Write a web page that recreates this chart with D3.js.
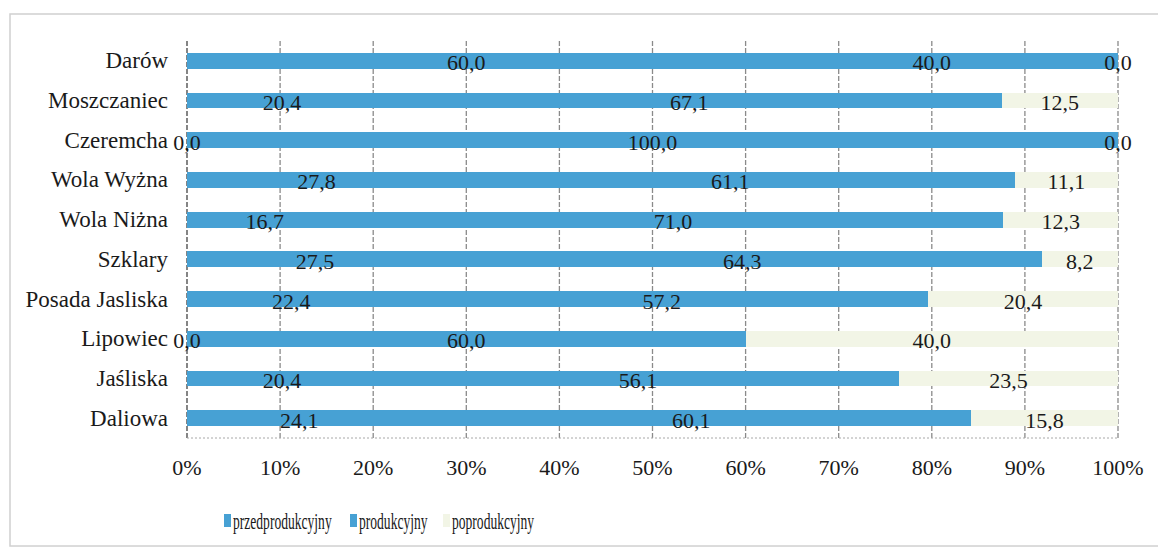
<!DOCTYPE html>
<html lang="pl">
<head>
	<meta charset="utf-8">
	<title>Struktura wieku</title>
	<style>
		body { margin: 0; background: #fff; }
		svg text { font-family: "Liberation Serif", "DejaVu Serif", serif; fill: #1a1a1a; }
	</style>
</head>
<body>
	<div id="chart"></div>

	<script src="https://d3js.org/d3.v7.min.js"></script>
	<script>
		var categories = ["Darów", "Moszczaniec", "Czeremcha", "Wola Wyżna", "Wola Niżna", "Szklary", "Posada Jasliska", "Lipowiec", "Jaśliska", "Daliowa"];
		var przedprodukcyjny = [60.0, 20.4, 0.0, 27.8, 16.7, 27.5, 22.4, 0.0, 20.4, 24.1];
		var produkcyjny = [40.0, 67.1, 100.0, 61.1, 71.0, 64.3, 57.2, 60.0, 56.1, 60.1];
		var poprodukcyjny = [0.0, 12.5, 0.0, 11.1, 12.3, 8.2, 20.4, 40.0, 23.5, 15.8];
		var tickValues = [0, 10, 20, 30, 40, 50, 60, 70, 80, 90, 100];
		var seriesNames = ["przedprodukcyjny", "produkcyjny", "poprodukcyjny"];
		var seriesColors = ["#47a1d4", "#47a1d4", "#f2f5e6"];

		var width = 1158,
		    height = 551;

		var svg = d3.select("#chart")
				.append("svg")
				.attr("width", width)
				.attr("height", height);

		// outer frame of the scanned chart
		svg.append("rect")
			.attr("x", 10).attr("y", 14)
			.attr("width", 1150).attr("height", 532)
			.attr("fill", "none")
			.attr("stroke", "#d0d0d0")
			.attr("stroke-width", 1.5);

		var x = d3.scaleLinear().domain([0, 100]).range([187, 1118]);
		var y = d3.scaleBand().domain(categories).range([41, 438]).paddingInner(0.6).paddingOuter(0.3);

		var rows = categories.map(function(c, i) {
			return { cat: c, przedprodukcyjny: przedprodukcyjny[i], produkcyjny: produkcyjny[i], poprodukcyjny: poprodukcyjny[i] };
		});
		var stack = d3.stack().keys(seriesNames)(rows);

		// gridlines
		svg.append("g")
			.selectAll("line")
			.data(tickValues)
			.enter().append("line")
			.attr("x1", function(d) { return x(d); })
			.attr("x2", function(d) { return x(d); })
			.attr("y1", 41).attr("y2", 438)
			.attr("stroke", function(d) { return d === 0 ? "#444" : "#8a8a8a"; })
			.attr("stroke-width", 1.3)
			.attr("stroke-dasharray", "5,2");

		// bottom axis line
		svg.append("line")
			.attr("x1", x(0)).attr("x2", x(100))
			.attr("y1", 438).attr("y2", 438)
			.attr("stroke", "#a8a8a8")
			.attr("stroke-dasharray", "2,2");

		// bars
		svg.append("g")
			.attr("shape-rendering", "crispEdges")
			.selectAll("g")
			.data(stack)
			.enter().append("g")
			.attr("fill", function(d, i) { return seriesColors[i]; })
			.selectAll("rect")
			.data(function(d) { return d; })
			.enter().append("rect")
			.attr("x", function(d) { return x(d[0]); })
			.attr("y", function(d) { return y(d.data.cat); })
			.attr("width", function(d) { return x(d[1]) - x(d[0]); })
			.attr("height", y.bandwidth());

		// data labels
		stack.forEach(function(s) {
			svg.append("g")
				.selectAll("text")
				.data(s)
				.enter().append("text")
				.attr("x", function(d) { return x((d[0] + d[1]) / 2); })
				.attr("y", function(d) { return y(d.data.cat) + y.bandwidth() / 2 + 2; })
				.attr("text-anchor", "middle")
				.attr("dominant-baseline", "central")
				.attr("font-size", 22)
				.text(function(d) { return (d[1] - d[0]).toFixed(1).replace(".", ","); });
		});

		// category labels
		svg.append("g")
			.selectAll("text")
			.data(categories)
			.enter().append("text")
			.attr("x", 168)
			.attr("y", function(d) { return y(d) + y.bandwidth() / 2; })
			.attr("text-anchor", "end")
			.attr("dominant-baseline", "central")
			.attr("font-size", 23)
			.text(function(d) { return d; });

		// x tick labels
		svg.append("g")
			.selectAll("text")
			.data(tickValues)
			.enter().append("text")
			.attr("x", function(d) { return x(d); })
			.attr("y", 467)
			.attr("text-anchor", "middle")
			.attr("dominant-baseline", "central")
			.attr("font-size", 22)
			.text(function(d) { return d + "%"; });

		// legend (the scan is squeezed sideways here)
		var legendX = [224, 350, 443];
		var legend = svg.append("g")
			.selectAll("g")
			.data(seriesNames)
			.enter().append("g")
			.attr("transform", function(d, i) { return "translate(" + legendX[i] + ",521)"; });

		legend.append("rect")
			.attr("x", 0).attr("y", -7)
			.attr("width", 7).attr("height", 13)
			.attr("fill", function(d, i) { return seriesColors[i]; });

		legend.append("text")
			.attr("transform", "translate(9,0) scale(0.59,1)")
			.attr("dominant-baseline", "central")
			.attr("font-size", 23)
			.text(function(d) { return d; });
	</script>
</body>
</html>
